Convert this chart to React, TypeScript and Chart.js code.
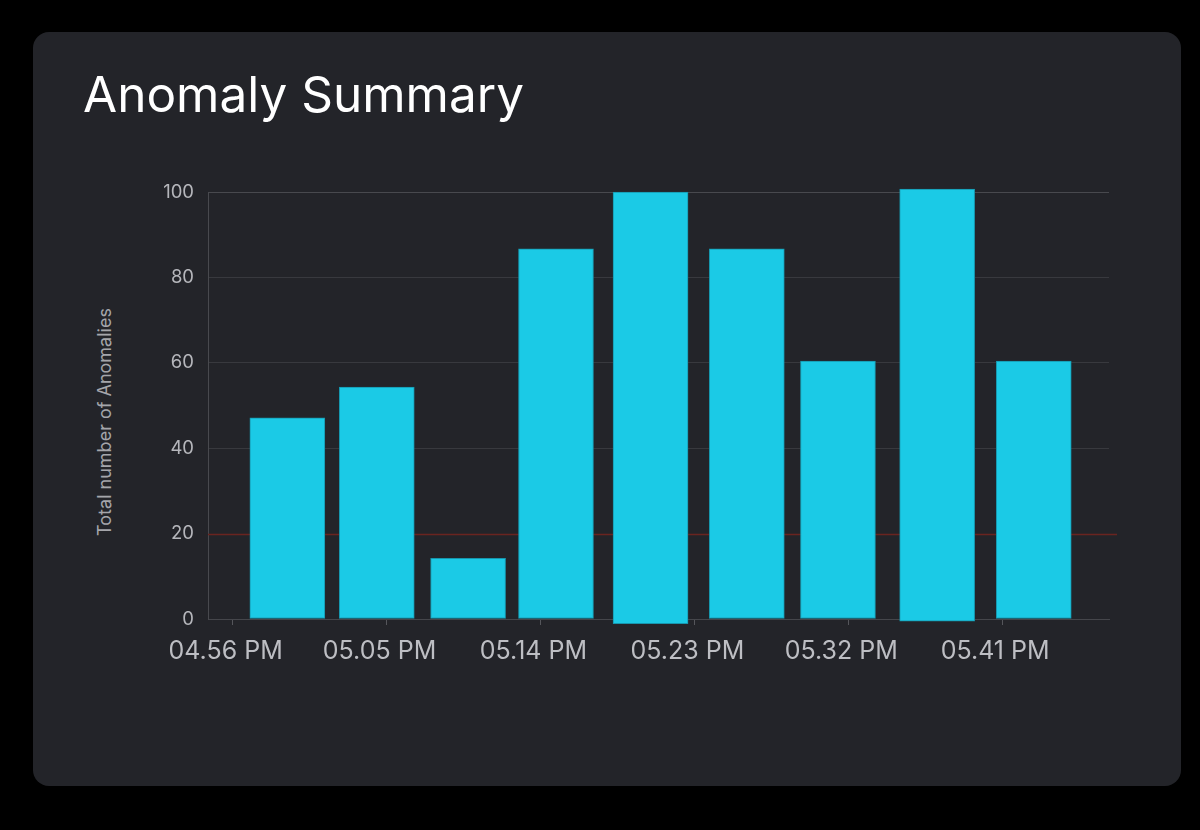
import React, { useEffect, useRef } from "react";
import { Chart, registerables } from "chart.js";

Chart.register(...registerables);

// Bar times, in minutes after 4:00 PM
const BAR_TIMES = [59.2, 64.43, 69.77, 74.91, 80.44, 86.07, 91.4, 97.2, 102.85];
// Total number of anomalies per bar (top) and bar base
const ANOMALY_TOP = [47.1, 54.3, 14.2, 86.7, 100, 86.7, 60.4, 100.7, 60.4];
const ANOMALY_BASE = [0, 0, 0, 0, -1.1, 0, 0, -0.5, 0];
// X tick positions (minutes after 4:00 PM) and labels
const TICK_TIMES = [56, 65, 74, 83, 92, 101];
const TICK_LABELS = ["04.56 PM", "05.05 PM", "05.14 PM", "05.23 PM", "05.32 PM", "05.41 PM"];
const X_MIN = 54.56;
const X_MAX = 107.25;
const Y_MIN = 0;
const Y_MAX = 100;
const Y_STEP = 20;
const THRESHOLD = 20;

const FONT = "Inter, 'Noto Sans', sans-serif";

const thresholdPlugin = {
  id: "thresholdLine",
  beforeDatasetsDraw(chart: any) {
    const { ctx, chartArea, scales } = chart;
    const y = Math.round(scales.y.getPixelForValue(THRESHOLD)) + 0.5;
    ctx.save();
    ctx.strokeStyle = "#6a2420";
    ctx.lineWidth = 1.5;
    ctx.beginPath();
    ctx.moveTo(chartArea.left, y);
    ctx.lineTo(chartArea.right + 8, y);
    ctx.stroke();
    ctx.restore();
  },
};

function AnomalyChart() {
  const ref = useRef<HTMLCanvasElement | null>(null);
  useEffect(() => {
    if (!ref.current) return;
    const chart = new Chart(ref.current, {
      type: "bar",
      data: {
        datasets: [
          {
            label: "Anomalies",
            data: BAR_TIMES.map((x, i) => ({ x, y: [ANOMALY_BASE[i], ANOMALY_TOP[i]] })) as any,
            backgroundColor: "#1bcae6",
            borderColor: "#1796ad",
            borderWidth: 1,
            borderSkipped: false,
            barThickness: 75,
            clip: false as any,
          },
        ],
      },
      options: {
        animation: false,
        responsive: false,
        layout: { padding: { left: 0, top: 192, right: 91, bottom: 151 } },
        plugins: { legend: { display: false }, tooltip: { enabled: false } },
        scales: {
          x: {
            type: "linear",
            offset: false,
            min: X_MIN,
            max: X_MAX,
            afterBuildTicks: (scale: any) => {
              scale.ticks = TICK_TIMES.map((v) => ({ value: v }));
            },
            afterFit: (scale: any) => {
              scale.height = 60;
            },
            grid: { offset: false, drawOnChartArea: false, drawTicks: true, tickLength: 6, color: "#55565b" },
            border: { color: "#45464b" },
            ticks: {
              autoSkip: false,
              maxRotation: 0,
              padding: 11,
              labelOffset: -7,
              color: "#bdbec3",
              font: { family: FONT, size: 25 },
              callback: (_v: any, i: number) => TICK_LABELS[i],
            },
          },
          y: {
            min: Y_MIN,
            max: Y_MAX,
            afterFit: (scale: any) => {
              scale.width = 208;
            },
            grid: {
              drawTicks: false,
              color: (c: any) => (c.tick && c.tick.value === Y_MAX ? "#48494e" : c.tick && c.tick.value === THRESHOLD ? "rgba(0,0,0,0)" : "#38393e"),
            },
            border: { color: "#48494e" },
            ticks: {
              stepSize: Y_STEP,
              padding: 14,
              color: "#b5b6bb",
              font: { family: FONT, size: 18.5 },
            },
          },
        },
      },
      plugins: [thresholdPlugin],
    });
    return () => chart.destroy();
  }, []);
  return (
    <canvas
      ref={ref}
      width={1200}
      height={830}
      style={{ position: "absolute", left: 0, top: 0, width: 1200, height: 830 }}
    />
  );
}

export default function App() {
  return (
    <div style={{ position: "fixed", left: 0, top: 0, width: 1200, height: 830, background: "#000", overflow: "hidden" }}>
      <div
        style={{
          position: "absolute",
          left: 33,
          top: 32,
          width: 1148,
          height: 754,
          borderRadius: 16,
          background: "#232429",
        }}
      />
      <div
        style={{
          position: "absolute",
          left: 83,
          top: 70,
          fontFamily: FONT,
          fontSize: 49.5,
          lineHeight: 1,
          color: "#ffffff",
          whiteSpace: "nowrap",
        }}
      >
        Anomaly Summary
      </div>
      <div
        style={{
          position: "absolute",
          left: 104,
          top: 422,
          transform: "translate(-50%, -50%) rotate(-90deg)",
          fontFamily: FONT,
          fontSize: 18,
          color: "#a5a6ab",
          whiteSpace: "nowrap",
        }}
      >
        Total number of Anomalies
      </div>
      <AnomalyChart />
    </div>
  );
}
